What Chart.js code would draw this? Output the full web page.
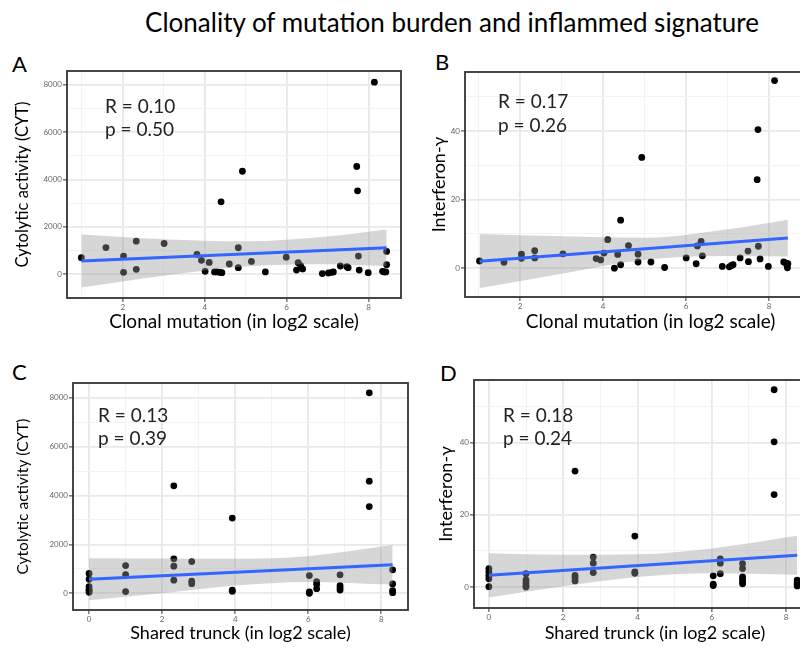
<!DOCTYPE html>
<html>
<head>
<meta charset="utf-8">
<script src="https://cdn.jsdelivr.net/npm/chart.js@4.4.0/dist/chart.umd.min.js"></script>
<style>
  html, body { margin: 0; padding: 0; width: 800px; height: 651px; overflow: hidden; background: #fff; }
  body { position: relative; font-family: Lato, "Noto Sans", sans-serif; }
  canvas { position: absolute; }
  .txt { position: absolute; white-space: nowrap; line-height: 1; color: #000; }
  .letter { font-size: 22px; }
  .stat { font-size: 19px; color: #222; }
</style>
</head>
<body>
<div class="txt" style="left:0;width:904px;text-align:center;top:9px;font-size:26px;">Clonality of mutation burden and inflammed signature</div>

<div class="txt letter" style="left:12px;top:53px;">A</div>
<div class="txt letter" style="left:435px;top:51px;">B</div>
<div class="txt letter" style="left:12px;top:361px;">C</div>
<div class="txt letter" style="left:440px;top:362px;">D</div>

<canvas id="chartA" width="410" height="280" style="left:0;top:60px"></canvas>
<canvas id="chartB" width="420" height="280" style="left:420px;top:60px"></canvas>
<canvas id="chartC" width="418" height="281" style="left:0;top:370px"></canvas>
<canvas id="chartD" width="420" height="281" style="left:420px;top:370px"></canvas>

<div class="txt stat" style="left:105px;top:96px;">R = 0.10</div>
<div class="txt stat" style="left:105px;top:119px;">p = 0.50</div>
<div class="txt stat" style="left:498px;top:91px;">R = 0.17</div>
<div class="txt stat" style="left:498px;top:115px;">p = 0.26</div>
<div class="txt stat" style="left:98px;top:405px;">R = 0.13</div>
<div class="txt stat" style="left:98px;top:428px;">p = 0.39</div>
<div class="txt stat" style="left:503px;top:405px;">R = 0.18</div>
<div class="txt stat" style="left:503px;top:428px;">p = 0.24</div>

<script>
// tick values (labelled) and minor grid values
const log2Ticks = [0, 2, 4, 6, 8];
const log2Minor = [1, 3, 5, 7, 9];
const cytTicks = [0, 2000, 4000, 6000, 8000];
const cytMinor = [-1000, 1000, 3000, 5000, 7000];
const ifnTicks = [0, 20, 40];
const ifnMinor = [-10, 10, 30, 50];

// A: clonal mutation vs CYT
const aX = [0.99,1.59,2.02,2.02,2.33,2.33,3.01,3.81,3.92,4.01,4.11,4.24,4.30,4.37,4.42,4.40,4.60,4.82,4.82,4.92,5.14,5.48,5.99,6.24,6.28,6.34,6.39,6.87,7.02,7.10,7.14,7.31,7.47,7.50,7.71,7.73,7.75,7.77,7.99,8.14,8.34,8.38,8.42,8.44,8.44];
const aY = [700,1130,770,85,1400,210,1300,840,590,125,500,100,100,85,70,3060,435,1120,280,4350,545,100,725,180,490,365,225,30,55,85,100,350,320,280,4550,3525,770,180,70,8110,125,100,100,965,405];
const aLineX = [0.99, 8.44];
const aLineY = [560, 1119];
const aBandX = [0.99, 3, 5, 7, 8.44];
const aBandHi = [1679, 1483, 1392, 1599, 1889];
const aBandLo = [-560, -59, 329, 424, 350];

// B: clonal mutation vs interferon-gamma
const bX = [1.02,1.61,2.03,2.03,2.35,2.35,3.03,3.83,3.94,4.02,4.11,4.27,4.35,4.42,4.42,4.61,4.84,4.84,4.93,5.15,5.48,6.00,6.24,6.27,6.36,6.39,6.87,7.04,7.09,7.13,7.30,7.49,7.50,7.73,7.71,7.74,7.78,7.98,8.13,8.35,8.40,8.43,8.44,8.45];
const bY = [2.1,1.7,4.1,2.9,5.1,3.0,4.2,2.8,2.4,4.4,8.3,0.0,4.0,14.0,1.0,6.6,4.1,1.8,32.3,1.8,0.2,3.0,1.3,6.5,7.8,3.6,0.5,0.4,0.8,1.0,3.0,5.0,1.9,40.4,25.8,6.4,2.7,0.5,54.7,1.8,1.5,0.8,0.1,1.3];
const bLineX = [1.02, 8.45];
const bLineY = [2.05, 8.8];
const bBandX = [1.02, 3, 5, 7, 8.45];
const bBandHi = [9.95, 9.31, 8.88, 11.37, 14.15];
const bBandLo = [-5.85, -1.62, 2.44, 3.56, 3.41];

// C: shared trunk vs CYT
const cX = [0,0,0,0,0,0, 1,1,1, 2.32,2.32,2.32,2.32, 2.81,2.81,2.81, 3.92,3.92,3.92, 6.03,6.03,6.03, 6.23,6.23,6.23, 6.87,6.87,6.87,6.87, 7.67,7.67,7.67, 8.31,8.31,8.31,8.31];
const cY = [810,575,275,165,110,40, 1135,765,70, 1410,1110,535,4400, 1300,495,395, 3080,125,80, 725,55,0, 480,370,190, 755,315,220,135, 8205,4590,3550, 960,385,110,25];
const cLineX = [0, 8.31];
const cLineY = [575, 1165];
const cBandX = [0, 2, 4, 6, 8.31];
const cBandHi = [1439, 1425, 1411, 1521, 1973];
const cBandLo = [-288, 0, 315, 466, 356];

// D: shared trunk vs interferon-gamma
const dX = [0,0,0,0,0, 1,1,1,1,1, 2.32,2.32,2.32,2.32, 2.81,2.81,2.81, 3.93,3.93,3.93, 6.04,6.04,6.04, 6.23,6.23,6.23, 6.83,6.83,6.83,6.83,6.83,6.83, 7.68,7.68,7.68, 8.3,8.3,8.3,8.3];
const dY = [5.1,4.2,3.2,2.3,0.1, 3.7,2.0,1.2,0.4,0.0, 32.1,3.2,2.5,1.7, 8.3,6.6,4.0, 14.1,4.2,3.8, 3.1,0.8,0.4, 7.8,6.6,3.7, 6.5,5.1,2.8,2.1,1.4,0.9, 54.6,40.2,25.6, 1.9,1.2,0.7,0.3];
const dLineX = [0, 8.3];
const dLineY = [3.24, 8.8];
const dBandX = [0, 2, 4, 6, 8.3];
const dBandHi = [9.35, 8.94, 9.07, 10.69, 14.17];
const dBandLo = [-2.87, 0.23, 2.78, 3.84, 3.43];

Chart.defaults.font.family = 'Lato, "Noto Sans", sans-serif';
Chart.defaults.animation = false;

const toXY = (xs, ys) => xs.map((x, i) => ({x: x, y: ys[i]}));

// ggplot style panel border
const panelBorder = {
  id: 'panelBorder',
  afterDatasetsDraw(chart) {
    const {ctx, chartArea: a} = chart;
    ctx.save();
    ctx.strokeStyle = '#333';
    ctx.lineWidth = 1.8;
    ctx.strokeRect(a.left, a.top, a.right - a.left, a.bottom - a.top);
    ctx.restore();
  }
};

function axisFor(min, max, major, minor, title, titleSize, titlePad, fit) {
  const isMajor = (c) => c.tick && major.includes(c.tick.value);
  return {
    type: 'linear', min: min, max: max,
    afterBuildTicks: (s) => {
      s.ticks = major.concat(minor)
        .filter((v) => v >= min && v <= max)
        .sort((a, b) => a - b)
        .map((v) => ({value: v}));
    },
    afterFit: fit,
    border: { display: false },
    grid: {
      color: (c) => isMajor(c) ? '#e8e8e8' : '#f3f3f3',
      lineWidth: (c) => isMajor(c) ? 1.8 : 1,
      tickColor: (c) => isMajor(c) ? '#333' : 'rgba(0,0,0,0)',
      tickWidth: 1,
      tickLength: 4,
    },
    ticks: {
      autoSkip: false, maxRotation: 0, padding: 1, color: '#666', font: { size: 8 },
      callback: (v) => major.includes(v) ? String(v) : '',
    },
    title: {
      display: true, text: title, color: '#000', font: { size: titleSize }, padding: titlePad,
    },
  };
}

function panel(id, p) {
  const xAxis = axisFor(p.xMin, p.xMax, log2Ticks, log2Minor, p.xTitle, p.xTitleSize,
    { top: 0, bottom: 18 - p.xTitleSize * 0.6 }, (s) => { s.height = p.xH; });
  const yAxis = axisFor(p.yMin, p.yMax, p.yTicks, p.yMinor, p.yTitle, p.yTitleSize,
    { top: p.yTitleX - p.yTitleSize * 0.6, bottom: 0 }, (s) => { s.width = p.yW; });

  return new Chart(id, {
    type: 'scatter',
    data: {
      datasets: [
        {
          type: 'line', data: toXY(p.lineX, p.lineY), borderColor: '#3366FF',
          borderWidth: 3, pointRadius: 0, fill: false, order: 0,
        },
        {
          type: 'line', data: toXY(p.bandX, p.bandHi), borderColor: 'rgba(0,0,0,0)',
          borderWidth: 0, pointRadius: 0, fill: '+1', backgroundColor: 'rgba(153,153,153,0.4)',
          cubicInterpolationMode: 'monotone', order: 1,
        },
        {
          type: 'line', data: toXY(p.bandX, p.bandLo), borderColor: 'rgba(0,0,0,0)',
          borderWidth: 0, pointRadius: 0, fill: false,
          cubicInterpolationMode: 'monotone', order: 1,
        },
        {
          data: toXY(p.x, p.y), backgroundColor: '#000', borderWidth: 0,
          pointRadius: 3.4, order: 2,
        },
      ],
    },
    options: {
      responsive: false,
      layout: { padding: { top: p.padTop, right: p.padRight, left: 0, bottom: 0 } },
      plugins: { legend: { display: false }, tooltip: { enabled: false } },
      scales: { x: xAxis, y: yAxis },
    },
    plugins: [panelBorder],
  });
}

panel('chartA', {
  x: aX, y: aY, lineX: aLineX, lineY: aLineY, bandX: aBandX, bandHi: aBandHi, bandLo: aBandLo,
  xMin: 0.64, xMax: 8.79, yMin: -1000, yMax: 8580, yTicks: cytTicks, yMinor: cytMinor,
  padTop: 11, padRight: 9, yW: 67, xH: 42, yTitleX: 23, xTitleSize: 19, yTitleSize: 16.5,
  xTitle: 'Clonal mutation (in log2 scale)', yTitle: 'Cytolytic activity (CYT)',
});
panel('chartB', {
  x: bX, y: bY, lineX: bLineX, lineY: bLineY, bandX: bBandX, bandHi: bBandHi, bandLo: bBandLo,
  xMin: 0.67, xMax: 9.61, yMin: -8.4, yMax: 57.2, yTicks: ifnTicks, yMinor: ifnMinor,
  padTop: 12, padRight: 4, yW: 45, xH: 43, yTitleX: 19, xTitleSize: 19, yTitleSize: 18,
  xTitle: 'Clonal mutation (in log2 scale)', yTitle: 'Interferon-γ',
});
panel('chartC', {
  x: cX, y: cY, lineX: cLineX, lineY: cLineY, bandX: cBandX, bandHi: cBandHi, bandLo: cBandLo,
  xMin: -0.44, xMax: 8.73, yMin: -684, yMax: 8607, yTicks: cytTicks, yMinor: cytMinor,
  padTop: 13, padRight: 10, yW: 73, xH: 41, yTitleX: 23, xTitleSize: 18, yTitleSize: 15.5,
  xTitle: 'Shared trunck (in log2 scale)', yTitle: 'Cytolytic activity (CYT)',
});
panel('chartD', {
  x: dX, y: dY, lineX: dLineX, lineY: dLineY, bandX: dBandX, bandHi: dBandHi, bandLo: dBandLo,
  xMin: -0.40, xMax: 9.345, yMin: -5.8, yMax: 57.3, yTicks: ifnTicks, yMinor: ifnMinor,
  padTop: 10, padRight: 4, yW: 54, xH: 43, yTitleX: 26, xTitleSize: 18, yTitleSize: 18,
  xTitle: 'Shared trunck (in log2 scale)', yTitle: 'Interferon-γ',
});
</script>
</body>
</html>
